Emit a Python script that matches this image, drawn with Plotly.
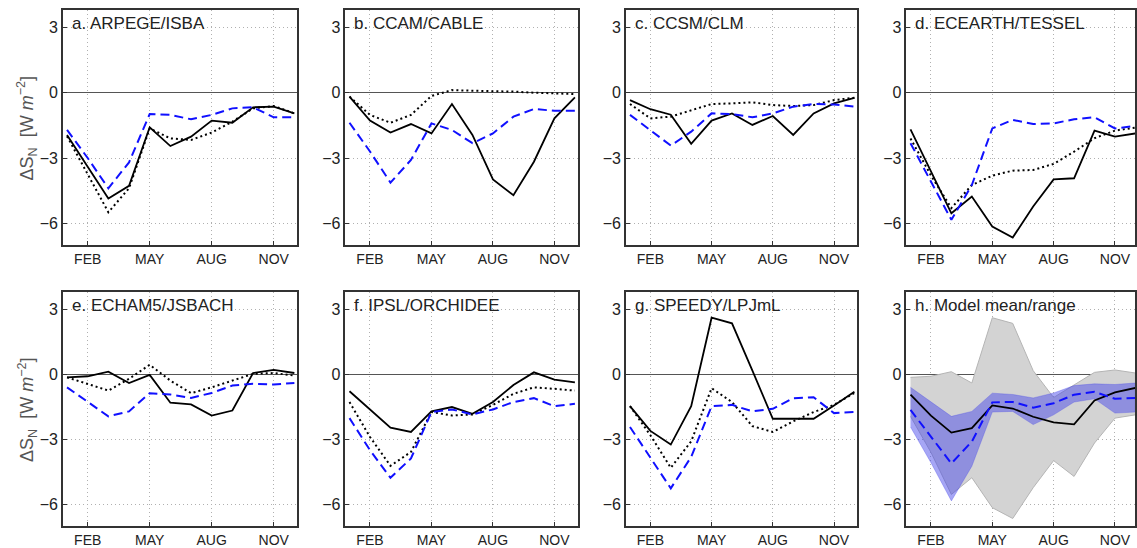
import numpy as np
import plotly.graph_objects as go

months = list(range(1, 13))
tick_vals = [2, 5, 8, 11]
tick_text = ["FEB", "MAY", "AUG", "NOV"]
y_ticks = [3, 0, -3, -6]

titles = ["a. ARPEGE/ISBA", "b. CCAM/CABLE", "c. CCSM/CLM", "d. ECEARTH/TESSEL",
          "e. ECHAM5/JSBACH", "f. IPSL/ORCHIDEE", "g. SPEEDY/LPJmL", "h. Model mean/range"]

# black solid, black dotted, blue dashed for each model
arpege_solid = [-1.94, -3.40, -4.86, -4.28, -1.59, -2.45, -2.02, -1.28, -1.38, -0.67, -0.64, -0.95]
arpege_dot = [-2.00, -3.75, -5.49, -4.39, -1.64, -2.10, -2.17, -1.83, -1.33, -0.72, -0.61, -0.95]
arpege_blue = [-1.71, -3.00, -4.39, -3.20, -0.98, -1.02, -1.22, -1.02, -0.72, -0.67, -1.13, -1.13]

ccam_solid = [-0.18, -1.28, -1.83, -1.44, -1.87, -0.52, -1.94, -3.98, -4.71, -3.17, -1.18, -0.21]
ccam_dot = [-0.18, -1.02, -1.38, -1.02, -0.15, 0.12, 0.09, 0.08, 0.05, 0.00, -0.03, -0.06]
ccam_blue = [-1.38, -2.70, -4.13, -3.09, -1.41, -1.71, -2.32, -1.87, -1.10, -0.75, -0.83, -0.83]

ccsm_solid = [-0.34, -0.76, -1.01, -2.35, -1.28, -0.95, -1.48, -1.07, -1.94, -0.95, -0.49, -0.24]
ccsm_dot = [-0.52, -1.18, -1.10, -0.80, -0.52, -0.49, -0.44, -0.57, -0.61, -0.57, -0.34, -0.23]
ccsm_blue = [-1.02, -1.74, -2.43, -1.79, -0.95, -0.98, -1.13, -0.95, -0.64, -0.52, -0.54, -0.64]

ecearth_solid = [-1.68, -3.60, -5.54, -4.77, -6.15, -6.65, -5.23, -3.98, -3.93, -1.74, -2.02, -1.87]
ecearth_dot = [-2.10, -3.80, -5.30, -4.24, -3.81, -3.58, -3.55, -3.27, -2.71, -2.09, -1.74, -1.60]
ecearth_blue = [-2.32, -4.08, -5.84, -4.24, -1.64, -1.25, -1.44, -1.41, -1.22, -1.13, -1.64, -1.53]

echam_solid = [-0.14, -0.09, 0.12, -0.40, -0.03, -1.31, -1.39, -1.90, -1.67, 0.06, 0.20, 0.06]
echam_dot = [-0.14, -0.44, -0.75, -0.21, 0.44, -0.29, -0.87, -0.60, -0.29, 0.02, 0.06, -0.06]
echam_blue = [-0.60, -1.28, -1.94, -1.71, -0.87, -0.93, -1.09, -0.86, -0.52, -0.44, -0.47, -0.40]

ipsl_solid = [-0.78, -1.62, -2.46, -2.66, -1.71, -1.51, -1.82, -1.28, -0.49, 0.09, -0.24, -0.37]
ipsl_dot = [-1.28, -2.89, -4.22, -3.58, -1.74, -1.90, -1.85, -1.41, -0.90, -0.60, -0.67, -0.75]
ipsl_blue = [-2.02, -3.50, -4.77, -3.88, -1.74, -1.62, -1.85, -1.62, -1.28, -1.10, -1.47, -1.36]

speedy_solid = [-1.47, -2.61, -3.24, -1.47, 2.61, 2.35, 0.17, -2.05, -2.05, -2.05, -1.44, -0.80]
speedy_dot = [-1.47, -2.81, -4.31, -3.09, -0.64, -1.28, -2.39, -2.66, -2.17, -1.74, -1.41, -0.86]
speedy_blue = [-2.43, -3.84, -5.26, -3.81, -1.47, -1.41, -1.71, -1.59, -1.10, -1.06, -1.79, -1.74]

models = [
    (arpege_solid, arpege_dot, arpege_blue),
    (ccam_solid, ccam_dot, ccam_blue),
    (ccsm_solid, ccsm_dot, ccsm_blue),
    (ecearth_solid, ecearth_dot, ecearth_blue),
    (echam_solid, echam_dot, echam_blue),
    (ipsl_solid, ipsl_dot, ipsl_blue),
    (speedy_solid, speedy_dot, speedy_blue),
]

W, H = 1137, 548
col_px = [(63, 298), (346, 579), (627, 859), (908, 1137)]
row_px = [(10, 246), (293, 528)]
x_ranges = [[0.8, 12.15], [0.8, 12.15], [0.8, 12.15], [0.8, 11.98]]

BLUE = "#1010ff"
fig = go.Figure()


def axis_names(i):
    return ("x" if i == 0 else f"x{i+1}", "y" if i == 0 else f"y{i+1}")


for i in range(8):
    xa, ya = axis_names(i)
    if i < 7:
        s, d, b = models[i]
        fig.add_trace(go.Scatter(x=months, y=s, mode="lines", line=dict(color="black", width=1.8),
                                 xaxis=xa, yaxis=ya, showlegend=False))
        fig.add_trace(go.Scatter(x=months, y=d, mode="lines",
                                 line=dict(color="black", width=2, dash="2px,3px"),
                                 xaxis=xa, yaxis=ya, showlegend=False))
        fig.add_trace(go.Scatter(x=months, y=b, mode="lines",
                                 line=dict(color=BLUE, width=2, dash="9px,5px"),
                                 xaxis=xa, yaxis=ya, showlegend=False))
    else:
        solids = np.array([m[0] for m in models])
        blues = np.array([m[2] for m in models])
        s_min, s_max, s_mean = solids.min(0), solids.max(0), solids.mean(0)
        b_min, b_max, b_mean = blues.min(0), blues.max(0), blues.mean(0)
        xs = months + months[::-1]
        fig.add_trace(go.Scatter(x=xs, y=list(s_max) + list(s_min[::-1]), fill="toself",
                                 fillcolor="#d3d3d3", line=dict(color="#b4b4b4", width=1),
                                 mode="lines", xaxis=xa, yaxis=ya, showlegend=False))
        fig.add_trace(go.Scatter(x=xs, y=list(b_max) + list(b_min[::-1]), fill="toself",
                                 fillcolor="rgba(70,70,235,0.48)", line=dict(color="rgba(70,70,235,0.3)", width=1),
                                 mode="lines", xaxis=xa, yaxis=ya, showlegend=False))
        fig.add_trace(go.Scatter(x=months, y=s_mean, mode="lines", line=dict(color="black", width=1.8),
                                 xaxis=xa, yaxis=ya, showlegend=False))
        fig.add_trace(go.Scatter(x=months, y=b_mean, mode="lines",
                                 line=dict(color=BLUE, width=2, dash="9px,5px"),
                                 xaxis=xa, yaxis=ya, showlegend=False))

layout = dict(width=W, height=H, margin=dict(l=0, r=0, t=0, b=0),
              paper_bgcolor="white", plot_bgcolor="white",
              font=dict(family="Liberation Sans, Arial, sans-serif", color="#222"))
annotations = []
for i in range(8):
    r, c = divmod(i, 4)
    x0, x1 = col_px[c]
    y0, y1 = row_px[r]
    xkey = "xaxis" if i == 0 else f"xaxis{i+1}"
    ykey = "yaxis" if i == 0 else f"yaxis{i+1}"
    xa, ya = axis_names(i)
    layout[xkey] = dict(domain=[x0 / W, x1 / W], range=x_ranges[c], anchor=ya,
                        tickvals=tick_vals, ticktext=tick_text, tickfont=dict(size=14, color="#222"),
                        showgrid=True, gridcolor="#b0b0b0", griddash="1px,3px", gridwidth=1,
                        zeroline=False, showline=True, linecolor="#333", linewidth=1.5, mirror=True,
                        ticks="inside", ticklen=4, tickcolor="#333")
    layout[ykey] = dict(domain=[1 - y1 / H, 1 - y0 / H], range=[-7.0, 3.8], anchor=xa,
                        tickvals=y_ticks, tickfont=dict(size=16, color="#222"),
                        showgrid=True, gridcolor="#b0b0b0", griddash="1px,3px", gridwidth=1,
                        zeroline=True, zerolinecolor="#555", zerolinewidth=1.2,
                        showline=True, linecolor="#333", linewidth=1.5, mirror=True,
                        ticks="inside", ticklen=4, tickcolor="#333")
    annotations.append(dict(text=titles[i], xref="paper", yref="paper",
                            x=(x0 + 7) / W, y=1 - (y0 + 14) / H, xanchor="left", yanchor="middle",
                            showarrow=False, font=dict(size=17, color="#222")))
    if c == 0:
        annotations.append(dict(text="ΔS<sub>N</sub>  [W <i>m</i><sup>−2</sup>]", xref="paper", yref="paper",
                                x=27 / W, y=1 - ((y0 + y1) / 2) / H, xanchor="center", yanchor="middle",
                                textangle=-90, showarrow=False, font=dict(size=18, color="#555")))
layout["annotations"] = annotations
fig.update_layout(**layout)
fig.write_html("out.html")
